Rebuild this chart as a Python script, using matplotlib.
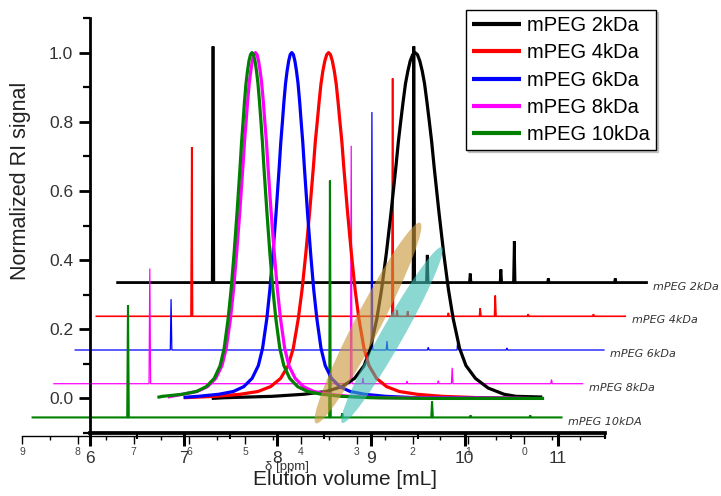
import matplotlib
matplotlib.use("Agg")
import numpy as np
import matplotlib.pyplot as plt
from matplotlib.patches import Ellipse
from matplotlib.ticker import MultipleLocator, FixedLocator

plt.rcParams['font.family'] = ['Liberation Sans', 'DejaVu Sans']

# ---- series names and colours ----
labels = ["mPEG 2kDa", "mPEG 4kDa", "mPEG 6kDa", "mPEG 8kDa", "mPEG 10kDa"]
nmr_labels = ["mPEG 2kDa", "mPEG 4kDa", "mPEG 6kDa", "mPEG 8kDa", "mPEG 10kDA"]
colors = ["black", "red", "blue", "magenta", "green"]

# ---- GPC traces: elution volume [mL] vs normalized RI signal ----
vol_2k = [7.30, 7.433, 7.942, 8.282, 8.520, 8.690, 8.826, 8.928, 8.995, 9.063,
          9.114, 9.165, 9.216, 9.267, 9.293, 9.318, 9.344, 9.369, 9.395, 9.420,
          9.446, 9.471, 9.497, 9.522, 9.548, 9.573, 9.598, 9.624, 9.649, 9.675,
          9.726, 9.777, 9.828, 9.879, 9.947, 10.015, 10.116, 10.252, 10.422, 10.55,
          10.83]
ri_2k = [0.0, 0.002, 0.006, 0.012, 0.020, 0.034, 0.058, 0.095, 0.145, 0.23,
         0.315, 0.42, 0.54, 0.67, 0.742, 0.80, 0.858, 0.91, 0.947, 0.976,
         0.994, 1.0, 0.994, 0.976, 0.947, 0.91, 0.858, 0.80, 0.742, 0.67,
         0.54, 0.42, 0.315, 0.23, 0.145, 0.095, 0.058, 0.030, 0.012, 0.006,
         0.004]

vol_4k = [7.00, 7.335, 7.604, 7.793, 7.928, 8.036, 8.117, 8.171, 8.224, 8.265,
          8.305, 8.346, 8.386, 8.406, 8.427, 8.447, 8.467, 8.487, 8.508, 8.528,
          8.548, 8.568, 8.588, 8.609, 8.629, 8.649, 8.669, 8.690, 8.710, 8.750,
          8.791, 8.831, 8.872, 8.926, 8.979, 9.060, 9.168, 9.303, 9.492, 9.761,
          10.166, 10.70]
ri_4k = [0.002, 0.006, 0.012, 0.020, 0.034, 0.058, 0.095, 0.145, 0.23, 0.315,
         0.42, 0.54, 0.67, 0.742, 0.80, 0.858, 0.91, 0.947, 0.976, 0.994,
         1.0, 0.994, 0.976, 0.947, 0.91, 0.858, 0.80, 0.742, 0.67, 0.54,
         0.42, 0.315, 0.23, 0.145, 0.095, 0.058, 0.034, 0.020, 0.012, 0.006,
         0.002, 0.0]

vol_6k = [7.00, 7.152, 7.375, 7.531, 7.642, 7.731, 7.798, 7.843, 7.888, 7.921,
          7.954, 7.988, 8.021, 8.038, 8.055, 8.071, 8.088, 8.105, 8.122, 8.138,
          8.155, 8.172, 8.188, 8.205, 8.222, 8.239, 8.255, 8.272, 8.289, 8.322,
          8.356, 8.389, 8.423, 8.467, 8.512, 8.579, 8.668, 8.779, 8.935, 9.158,
          9.49, 10.70]
ri_6k = [0.003, 0.006, 0.012, 0.020, 0.034, 0.058, 0.095, 0.145, 0.23, 0.315,
         0.42, 0.54, 0.67, 0.742, 0.80, 0.858, 0.91, 0.947, 0.976, 0.994,
         1.0, 0.994, 0.976, 0.947, 0.91, 0.858, 0.80, 0.742, 0.67, 0.54,
         0.42, 0.315, 0.23, 0.145, 0.095, 0.058, 0.034, 0.020, 0.012, 0.006,
         0.002, 0.0]

vol_8k = [6.83, 6.987, 7.143, 7.254, 7.343, 7.410, 7.455, 7.500, 7.533, 7.566,
          7.600, 7.633, 7.650, 7.667, 7.683, 7.700, 7.717, 7.734, 7.750, 7.767,
          7.784, 7.800, 7.817, 7.834, 7.851, 7.867, 7.884, 7.901, 7.934, 7.968,
          8.001, 8.035, 8.079, 8.124, 8.191, 8.280, 8.391, 8.547, 8.770, 9.10,
          10.60]
ri_8k = [0.004, 0.012, 0.020, 0.034, 0.058, 0.095, 0.145, 0.23, 0.315, 0.42,
         0.54, 0.67, 0.742, 0.80, 0.858, 0.91, 0.947, 0.976, 0.994, 1.0,
         0.994, 0.976, 0.947, 0.91, 0.858, 0.80, 0.742, 0.67, 0.54, 0.42,
         0.315, 0.23, 0.145, 0.095, 0.058, 0.034, 0.020, 0.012, 0.006, 0.002,
         0.0]

vol_10k = [6.72, 6.775, 6.987, 7.136, 7.242, 7.327, 7.390, 7.433, 7.475, 7.507,
           7.539, 7.571, 7.603, 7.619, 7.635, 7.650, 7.666, 7.682, 7.698, 7.714,
           7.730, 7.746, 7.762, 7.778, 7.794, 7.810, 7.826, 7.841, 7.857, 7.889,
           7.921, 7.953, 7.985, 8.027, 8.070, 8.133, 8.218, 8.324, 8.473, 8.685,
           9.004, 9.60, 10.85]
ri_10k = [0.003, 0.006, 0.012, 0.020, 0.034, 0.058, 0.095, 0.145, 0.23, 0.315,
          0.42, 0.54, 0.67, 0.742, 0.80, 0.858, 0.91, 0.947, 0.976, 0.994,
          1.0, 0.994, 0.976, 0.947, 0.91, 0.858, 0.80, 0.742, 0.67, 0.54,
          0.42, 0.315, 0.23, 0.145, 0.095, 0.058, 0.034, 0.020, 0.012, 0.006,
          0.002, 0.0, 0.0]

gpc_vol = [vol_2k, vol_4k, vol_6k, vol_8k, vol_10k]
gpc_ri = [ri_2k, ri_4k, ri_6k, ri_8k, ri_10k]

# ---- 1H NMR peak lists: chemical shift [ppm] and intensity above baseline ----
ppm_first, ppm_last = 8.81, -0.67
peaks_2k_ppm = [7.10, 3.50, 3.26, 2.49, 1.94, 1.70, 1.09, -0.11]
peaks_2k_h = [0.683, 0.683, 0.080, 0.026, 0.038, 0.120, 0.012, 0.012]
peaks_4k_ppm = [7.10, 3.50, 3.42, 3.23, 2.50, 1.93, 1.66, 1.07, -0.10]
peaks_4k_h = [0.489, 0.688, 0.017, 0.015, 0.010, 0.023, 0.060, 0.006, 0.006]
peaks_6k_ppm = [7.09, 3.49, 3.22, 2.48, 1.95, 1.07]
peaks_6k_h = [0.147, 0.688, 0.026, 0.008, 0.032, 0.006]
peaks_8k_ppm = [7.09, 3.48, 3.27, 2.48, 1.92, 1.67, -0.11]
peaks_8k_h = [0.333, 0.688, 0.017, 0.008, 0.009, 0.046, 0.012]
peaks_10k_ppm = [7.10, 3.48, 3.26, 1.65, 0.96, -0.11]
peaks_10k_h = [0.324, 0.685, 0.012, 0.046, 0.006, 0.006]

nmr_ppm = [peaks_2k_ppm, peaks_4k_ppm, peaks_6k_ppm, peaks_8k_ppm, peaks_10k_ppm]
nmr_h = [peaks_2k_h, peaks_4k_h, peaks_6k_h, peaks_8k_h, peaks_10k_h]

# stacked-plot layout: the front trace (10 kDa) sits lowest, each one
# behind it moves right and up
STACK_BASE = -0.055
STACK_DY = 0.0975
STACK_DX = 0.381
nmr_lw = [2.0, 1.2, 0.9, 0.9, 1.5]
SPIKE_W = 0.014

W, H = 721, 496
fig = plt.figure(figsize=(W / 100, H / 100), dpi=100)

ax_top, ax_bot = 18, 433
ax_nmr = fig.add_axes([22 / W, (H - ax_bot) / H, 583 / W, (ax_bot - ax_top) / H], zorder=1)
ax = fig.add_axes([90 / W, (H - ax_bot) / H, 515 / W, (ax_bot - ax_top) / H], zorder=2)
ax.patch.set_alpha(0)
ax_nmr.patch.set_alpha(0)

# ---- NMR stack ----
ax_nmr.set_xlim(9, -1.45)
ax_nmr.set_ylim(-0.1, 1.1)
for k_back, (pp, hh, col, lw, lab) in enumerate(zip(nmr_ppm, nmr_h, colors, nmr_lw, nmr_labels)):
    level = 4 - k_back
    pts = [(ppm_first, 0.0), (ppm_last, 0.0)]
    for p, h in zip(pp, hh):
        pts += [(p + SPIKE_W, 0.0), (p, h), (p - SPIKE_W, 0.0)]
    pts.sort(key=lambda t: -t[0])
    xs = np.array([t[0] for t in pts]) - level * STACK_DX
    ys = np.array([t[1] for t in pts]) + STACK_BASE + level * STACK_DY
    ax_nmr.plot(xs, ys, color=col, lw=lw, clip_on=False, solid_joinstyle='miter', zorder=2 + k_back)
    ax_nmr.annotate(lab, xy=(ppm_last - level * STACK_DX, STACK_BASE + level * STACK_DY),
                    xytext=(4.5, -3), textcoords='offset points', ha='left', va='center',
                    fontsize=8, style='italic', color='#333333', annotation_clip=False,
                    family=['DejaVu Sans'])

for s in ['left', 'top', 'right']:
    ax_nmr.spines[s].set_visible(False)
ax_nmr.spines['bottom'].set_position(('outward', 2))
ax_nmr.spines['bottom'].set_linewidth(1.0)
ax_nmr.set_yticks([])
ax_nmr.xaxis.set_major_locator(FixedLocator(range(0, 10)))
ax_nmr.xaxis.set_minor_locator(FixedLocator(np.arange(-1.0, 9.0, 0.5)))
ax_nmr.tick_params(axis='x', which='major', length=6, width=1, pad=2, labelsize=7.5,
                   labelcolor='#444444')
ax_nmr.tick_params(axis='x', which='minor', length=3, width=1)
ax_nmr.set_xlabel('δ [ppm]', fontsize=9.5, color='#333333')
ax_nmr.xaxis.set_label_coords((287 - 22) / 583, (ax_bot - 461) / (ax_bot - ax_top))

# ---- GPC traces ----
for vol, ri, col, lab in zip(gpc_vol, gpc_ri, colors, labels):
    ax.plot(vol, ri, color=col, lw=2.3, label=lab, solid_capstyle='butt',
            solid_joinstyle='round')

ax.set_xlim(6, 11.5)
ax.set_ylim(-0.1, 1.1)
ax.set_xticks(range(6, 12))
ax.xaxis.set_minor_locator(MultipleLocator(0.5))
ax.set_yticks([0.0, 0.2, 0.4, 0.6, 0.8, 1.0])
ax.yaxis.set_minor_locator(FixedLocator(np.arange(-0.1, 1.15, 0.2)))
ax.set_yticklabels(['0.0', '0.2', '0.4', '0.6', '0.8', '1.0'])
for s in ['top', 'right']:
    ax.spines[s].set_visible(False)
ax.spines['left'].set_linewidth(2.0)
ax.spines['bottom'].set_linewidth(2.7)
ax.tick_params(axis='y', which='major', length=8, width=2, pad=4, labelsize=12.5,
               labelcolor='#333333')
ax.tick_params(axis='y', which='minor', length=5, width=1.6)
ax.tick_params(axis='x', which='major', length=9, width=2.2, pad=4, labelsize=12.5,
               labelcolor='#333333')
ax.tick_params(axis='x', which='minor', length=4, width=1.5)
ax.set_ylabel('Normalized RI signal', fontsize=15.5, color='#222222')
ax.yaxis.set_label_coords((31 - 90) / 515, (ax_bot - 181) / (ax_bot - ax_top))
ax.set_xlabel('Elution volume [mL]', fontsize=15, color='#222222')
ax.xaxis.set_label_coords((345 - 90) / 515, (ax_bot - 470) / (ax_bot - ax_top))

leg = ax.legend(loc='upper left', bbox_to_anchor=(466 / W, 1 - 10 / H),
                bbox_transform=fig.transFigure, fontsize=14.5, handlelength=2.44,
                handletextpad=0.28, borderpad=0.3, labelspacing=0.41, borderaxespad=0,
                fancybox=False, framealpha=1, edgecolor='black',
                shadow={'ox': 1.5, 'oy': -1.5, 'color': '0.6'})
leg.get_frame().set_linewidth(1.0)
for line in leg.get_lines():
    line.set_linewidth(3.0)

# ---- highlighted regions ----
ax_note = fig.add_axes([0, 0, 1, 1], zorder=3)
ax_note.set_xlim(0, W)
ax_note.set_ylim(0, H)
ax_note.axis('off')
ax_note.add_patch(Ellipse((368, H - 323), 226, 26, angle=62.5,
                          facecolor='#c9973a', alpha=0.62, edgecolor='none'))
ax_note.add_patch(Ellipse((392, H - 335), 202, 22, angle=60.4,
                          facecolor='#3cbfb3', alpha=0.6, edgecolor='none'))

fig.savefig('out.png', dpi=100)
